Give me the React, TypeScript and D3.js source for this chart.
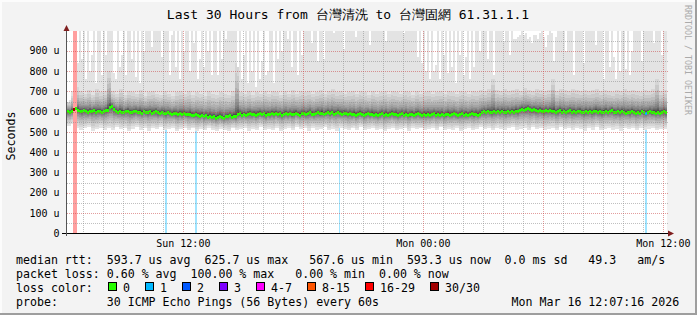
import React from "react";
import * as d3 from "d3";

const W = 697;
const H = 315;

const title = "Last 30 Hours from 台灣清洗 to 台灣固網 61.31.1.1";
const yTickValues = [0, 100, 200, 300, 400, 500, 600, 700, 800, 900];
const xLabelTimes = [
  { label: "Sun 12:00", date: new Date(2026, 2, 15, 12, 0) },
  { label: "Mon 00:00", date: new Date(2026, 2, 16, 0, 0) },
  { label: "Mon 12:00", date: new Date(2026, 2, 16, 12, 0) },
];
const START = new Date(2026, 2, 15, 6, 11);
const END = new Date(2026, 2, 16, 12, 11);
const SPAN_MIN = 1800;

// median rtt per 6-minute step (microseconds)
const medianRtt = [
  604, 601, 606, 612, 618, 610, 605, 602, 607, 604, 600, 605, 603, 608, 601, 604, 606, 600, 603, 607,
  610, 622, 626, 612, 604, 600, 605, 601, 598, 603, 606, 600, 597, 602, 604, 599, 601, 596, 603, 600,
  598, 602, 596, 599, 603, 597, 594, 599, 596, 592, 597, 593, 590, 595, 592, 588, 593, 590, 595, 589,
  587, 591, 586, 583, 588, 584, 580, 585, 578, 582, 576, 580, 574, 578, 571, 576, 580, 575, 568, 577,
  579, 583, 576, 581, 578, 588, 592, 586, 590, 584, 589, 593, 587, 591, 585, 590, 594, 588, 592, 586,
  591, 587, 593, 589, 595, 588, 592, 586, 590, 594, 589, 593, 587, 591, 596, 590, 586, 592, 595, 589,
  593, 597, 591, 588, 594, 598, 592, 596, 590, 595, 599, 593, 597, 591, 595, 600, 594, 590, 596, 592,
  588, 593, 587, 591, 585, 590, 594, 588, 584, 589, 593, 587, 591, 585, 589, 583, 588, 592, 586, 590,
  585, 589, 593, 587, 591, 584, 588, 592, 586, 590, 583, 587, 591, 585, 589, 593, 588, 584, 590, 586,
  589, 584, 588, 592, 586, 590, 585, 589, 583, 587, 591, 585, 589, 593, 587, 582, 588, 592, 586, 590,
  585, 589, 593, 587, 591, 586, 590, 598, 603, 599, 604, 600, 597, 602, 598, 603, 600, 605, 601, 598,
  603, 599, 604, 600, 606, 602, 611, 615, 610, 614, 618, 612, 608, 613, 609, 605, 611, 606, 603, 608,
  604, 609, 602, 606, 600, 604, 608, 601, 605, 599, 603, 607, 600, 604, 598, 602, 606, 600, 597, 603,
  599, 604, 598, 602, 606, 600, 604, 597, 601, 605, 599, 603, 608, 601, 597, 602, 598, 604, 600, 596,
  601, 597, 603, 599, 595, 600, 596, 602, 598, 594, 599, 603, 597, 601, 596, 600, 595, 599, 603, 597,
];
// slowest ping per 6-minute step (values above the top are clipped)
const maxPing = [
  650, 660, 700, 700, 830, 840, 1100, 860, 1100, 760, 1100, 800, 880, 1100, 740, 1100, 1100, 780, 1100, 880,
  1100, 1100, 1100, 790, 760, 1100, 820, 880, 1100, 780, 1100, 1100, 860, 1100, 770, 1100, 740, 1100, 900, 1100,
  1100, 1100, 920, 1100, 1100, 1100, 1100, 870, 1100, 1100, 1100, 780, 980, 1100, 820, 1100, 760, 1100, 900, 1100,
  1100, 800, 1100, 940, 1100, 760, 860, 1100, 820, 1100, 900, 1100, 780, 1100, 1100, 780, 1100, 860, 1100, 960,
  1100, 1100, 1100, 1100, 1100, 820, 1100, 760, 880, 1100, 740, 1100, 800, 1100, 720, 1100, 760, 850, 1100, 780,
  800, 1100, 1100, 740, 1100, 860, 1100, 900, 1100, 1100, 960, 1100, 820, 1100, 1100, 780, 1100, 880, 1100, 1100,
  1100, 1100, 940, 1100, 1100, 850, 1100, 1100, 860, 1100, 1100, 1100, 1100, 990, 1100, 1100, 1100, 1100, 910, 1100,
  1100, 1100, 1100, 1100, 970, 1100, 1100, 1100, 1100, 1100, 1100, 930, 1100, 1100, 1100, 1100, 1100, 1100, 1100, 950,
  1100, 1100, 1100, 1100, 1100, 1100, 1100, 1100, 990, 1100, 1100, 1100, 1100, 1100, 1100, 870, 1100, 840, 1100, 800,
  1100, 760, 1100, 800, 830, 1100, 760, 1100, 880, 1100, 790, 1100, 820, 1100, 740, 1100, 880, 1100, 780, 870,
  1100, 760, 1100, 820, 1100, 1100, 900, 1100, 1100, 1100, 860, 1100, 1100, 780, 1100, 1100, 1100, 1100, 950, 1100,
  1100, 880, 1100, 960, 960, 970, 980, 1000, 980, 990, 960, 970, 940, 980, 980, 960, 990, 1100, 970, 920,
  980, 1100, 990, 850, 970, 1100, 1100, 1100, 1100, 900, 1100, 1100, 1100, 780, 1100, 1100, 1100, 1100, 840, 1100,
  1100, 1100, 1100, 1100, 930, 1100, 1100, 1100, 760, 1100, 1100, 820, 1100, 870, 760, 1100, 800, 1100, 1100, 810,
  1100, 780, 900, 1100, 1100, 1100, 1100, 850, 1100, 1100, 1100, 1100, 1100, 940, 1100, 1100, 1100, 880, 1100, 1100,
];
// second slowest ping per 12-minute bin
const secondMax = [
  650, 680, 720, 700, 690, 705, 685, 710, 695, 700,
  800, 700, 690, 710, 685, 700, 695, 690, 705, 680,
  695, 700, 690, 685, 700, 690, 680, 695, 700, 690,
  700, 685, 695, 690, 680, 700, 690, 685, 695, 690,
  685, 700, 840, 695, 690, 700, 685, 695, 690, 700,
  690, 700, 695, 685, 700, 690, 705, 690, 700, 695,
  700, 690, 695, 705, 690, 700, 710, 695, 700, 690,
  695, 700, 690, 700, 695, 685, 700, 690, 695, 700,
  690, 700, 695, 690, 700, 695, 685, 700, 690, 695,
  700, 690, 695, 700, 690, 700, 695, 690, 700, 695,
  690, 700, 695, 705, 700, 710, 760, 705, 700, 710,
  700, 705, 710, 700, 715, 705, 700, 710, 705, 700,
  705, 760, 700, 710, 705, 700, 710, 705, 700, 705,
  700, 705, 710, 700, 705, 700, 695, 705, 700, 710,
  700, 705, 700, 695, 705, 700, 710, 760, 700, 705,
];
// fastest ping per 12-minute bin
const minPing = [
  530, 540, 520, 512, 518, 525, 505, 515, 522, 510,
  518, 508, 526, 514, 520, 503, 517, 524, 511, 519,
  507, 521, 513, 526, 509, 516, 520, 505, 514, 522,
  510, 518, 503, 515, 508, 520, 512, 506, 517, 511,
  504, 519, 509, 515, 521, 507, 516, 512, 524, 508,
  517, 511, 522, 506, 514, 519, 509, 525, 513, 518,
  507, 520, 512, 516, 523, 510, 517, 506, 521, 514,
  509, 518, 512, 524, 508, 515, 520, 511, 517, 505,
  516, 522, 510, 514, 519, 507, 521, 513, 518, 509,
  515, 520, 511, 523, 508, 517, 512, 519, 506, 514,
  521, 510, 516, 524, 513, 518, 509, 522, 515, 511,
  519, 526, 512, 517, 520, 508, 523, 514, 518, 511,
  516, 521, 509, 524, 513, 518, 510, 520, 515, 507,
  518, 512, 523, 509, 516, 520, 511, 517, 506, 521,
  514, 519, 508, 522, 512, 517, 521, 510, 516, 513,
];
// typical spread of the inner pings (fraction of distance from median)
const lowerRankFrac = [0.01, 0.02, 0.04, 0.07, 0.1, 0.14, 0.19, 0.25, 0.32, 0.4, 0.5, 0.61, 0.74, 0.87];
const upperRankFrac = [0.01, 0.03, 0.05, 0.08, 0.11, 0.15, 0.2, 0.26, 0.33, 0.42, 0.53, 0.66, 0.82];

// steps whose median is drawn in a loss colour
const medianLossStep = [3, 289];
const medianLossCount = [30, 1];
// loss background bars (minutes since start)
const lossBarFrom = [18, 294, 384, 816, 1734];
const lossBarTo = [30, 299, 389, 820, 1740];
const lossBarCount = [20, 1, 1, 1, 1];

const lossLegendLabels = ["0", "1", "2", "3", "4-7", "8-15", "16-29", "30/30"];
const lossLegendColors = ["#26ff00", "#00b8ff", "#0059ff", "#7e00ff", "#ff00ff", "#ff5500", "#ff0000", "#a10000"];
const lossLegendX = [108.5, 145.5, 182.5, 219.5, 256.5, 307.5, 365.5, 430.5];

const line1 = "median rtt:  593.7 us avg  625.7 us max   567.6 us min  593.3 us now  0.0 ms sd   49.3   am/s";
const line2 = "packet loss: 0.60 % avg  100.00 % max   0.00 % min  0.00 % now";
const line3 = "loss color:";
const line4 = "probe:       30 ICMP Echo Pings (56 Bytes) every 60s";
const stamp = "Mon Mar 16 12:07:16 2026";

function lossColor(n: number) {
  if (n <= 0) return lossLegendColors[0];
  if (n === 1) return lossLegendColors[1];
  if (n === 2) return lossLegendColors[2];
  if (n === 3) return lossLegendColors[3];
  if (n <= 7) return lossLegendColors[4];
  if (n <= 15) return lossLegendColors[5];
  if (n <= 29) return lossLegendColors[6];
  return lossLegendColors[7];
}
function smokeGray(k: number) {
  const v = Math.floor((190 / 15) * (15 - k)) + 50;
  return `rgb(${v},${v},${v})`;
}

const MONO = "'DejaVu Sans Mono', monospace";

export default function App() {
  const left = 67, right = 667, top = 31, bottom = 233.3;
  const x = d3.scaleTime().domain([START, END]).range([left, right]);
  const y = d3.scaleLinear().domain([0, 1000]).range([bottom, 30.7]);
  const t = (min: number) => new Date(START.getTime() + min * 60000);
  const stepMin = SPAN_MIN / medianRtt.length;
  const binMin = SPAN_MIN / minPing.length;

  const smoke: JSX.Element[] = [];
  medianRtt.forEach((med, i) => {
    const x0 = Math.round(x(t(i * stepMin)));
    const x1 = Math.round(x(t((i + 1) * stepMin)));
    const b = Math.min(minPing.length - 1, Math.floor((i * stepMin) / binMin));
    const lo = minPing[b], hi = maxPing[i], hi2 = Math.min(secondMax[b], hi);
    const p: number[] = new Array(31).fill(0);
    p[1] = lo; p[30] = hi; p[29] = hi2;
    for (let r = 2; r <= 15; r++) p[r] = med - (med - lo) * lowerRankFrac[15 - r];
    for (let r = 16; r <= 28; r++) p[r] = med + (hi2 - med) * upperRankFrac[r - 16];
    for (let k = 1; k <= 15; k++) {
      const yt = y(p[31 - k]);
      const yb = y(p[k]);
      smoke.push(
        <rect key={`s${i}-${k}`} x={x0} y={yt} width={x1 - x0} height={Math.max(0, yb - yt)} fill={smokeGray(k)} />
      );
    }
  });

  const lossBg = lossBarFrom.map((f, j) => {
    const x0 = x(t(f)), x1 = x(t(lossBarTo[j]));
    return { x0, x1, c: lossColor(lossBarCount[j]), n: lossBarCount[j] };
  });

  const medianRects = medianRtt.map((med, i) => {
    const x0 = Math.round(x(t(i * stepMin)));
    const x1 = Math.round(x(t((i + 1) * stepMin)));
    const li = medianLossStep.indexOf(i);
    const c = li >= 0 ? lossColor(medianLossCount[li]) : lossLegendColors[0];
    const yc = Math.round(y(med));
    return <rect key={`m${i}`} x={x0} y={yc - 1} width={x1 - x0} height={3} fill={c} />;
  });

  const hourTicks = d3.timeHour.every(1)!.range(START, END);
  const minorV = hourTicks.filter((d) => d.getHours() % 6 !== 0);
  const majorV = hourTicks.filter((d) => d.getHours() % 6 === 0);
  const minorH = d3.range(50, 1000, 100);
  const majorH = yTickValues.filter((v) => v > 0);

  const legendText = (s: string, yy: number, xx = 16) => (
    <text x={xx} y={yy} xmlSpace="preserve" style={{ whiteSpace: "pre" }} fontFamily={MONO} fontSize={11.6} fill="#000">{s}</text>
  );

  return (
    <svg width={W} height={H} style={{ position: "absolute", left: 0, top: 0, display: "block" }}>
      <defs>
        <clipPath id="plotclip">
          <rect x={left} y={top} width={right - left} height={bottom - top} />
        </clipPath>
      </defs>
      <rect x={0} y={0} width={W} height={H} fill="#f3f3f3" />
      <rect x={0} y={0} width={W} height={2} fill="#fcfcfc" />
      <rect x={0} y={0} width={2} height={H} fill="#fcfcfc" />
      <rect x={W - 2} y={0} width={2} height={H} fill="#9e9e9e" />
      <rect x={0} y={H - 2} width={W} height={2} fill="#9e9e9e" />

      <rect x={left} y={top} width={right - left} height={bottom - top} fill="#ffffff" />
      <g clipPath="url(#plotclip)" shapeRendering="crispEdges">
        {lossBg.filter((b) => b.n < 16).map((b, j) => (
          <rect key={`lb${j}`} x={b.x0} y={top} width={b.x1 - b.x0} height={bottom - top} fill={b.c} fillOpacity={0x60 / 255} />
        ))}
        {smoke}
        {lossBg.filter((b) => b.n >= 16).map((b, j) => (
          <rect key={`lr${j}`} x={b.x0} y={top} width={b.x1 - b.x0} height={bottom - top} fill="rgb(255,159,159)" />
        ))}
        {medianRects}
      </g>

      <g shapeRendering="crispEdges">
        {minorH.map((v) => (
          <line key={`gh${v}`} x1={left} x2={right + 1} y1={Math.round(y(v)) + 0.5} y2={Math.round(y(v)) + 0.5} stroke="rgba(140,140,140,0.55)" strokeDasharray="1,1" />
        ))}
        {minorV.map((d, i) => (
          <line key={`gv${i}`} x1={Math.round(x(d)) + 0.5} x2={Math.round(x(d)) + 0.5} y1={top} y2={bottom} stroke="rgba(140,140,140,0.55)" strokeDasharray="1,1" />
        ))}
        {majorH.map((v) => (
          <line key={`mh${v}`} x1={left} x2={right + 1} y1={Math.round(y(v)) + 0.5} y2={Math.round(y(v)) + 0.5} stroke="rgba(200,60,60,0.5)" strokeDasharray="1,1" />
        ))}
        {majorV.map((d, i) => (
          <line key={`mv${i}`} x1={Math.round(x(d)) + 0.5} x2={Math.round(x(d)) + 0.5} y1={top} y2={bottom} stroke="rgba(200,60,60,0.5)" strokeDasharray="1,1" />
        ))}
        <line x1={62} x2={670} y1={233.5} y2={233.5} stroke="#000" />
        <line x1={66.5} x2={66.5} y1={236} y2={28} stroke="#555" />
      </g>
      <path d="M668,230.5 L674,233.5 L668,236.5 Z" fill="#7f1f1f" />
      <path d="M63.5,31 L66.5,25 L69.5,31 Z" fill="#7f1f1f" />

      <text x={348} y={19} textAnchor="middle" fontFamily={MONO} fontSize={13} fill="#000">{title}</text>

      {yTickValues.map((v) => (
        <text key={`yl${v}`} x={59.5} y={y(v) + 3.5} textAnchor="end" fontFamily={MONO} fontSize={10} fill="#000">
          {v === 0 ? "0" : `${v} u`}
        </text>
      ))}
      {xLabelTimes.map((l) => (
        <text key={l.label} x={x(l.date)} y={246.5} textAnchor="middle" fontFamily={MONO} fontSize={10} fill="#000">{l.label}</text>
      ))}

      <text transform="translate(14.5,136) rotate(-90)" textAnchor="middle" fontFamily={MONO} fontSize={11.6} fill="#000">Seconds</text>
      <text transform="translate(684.5,5) rotate(90)" fontFamily={MONO} fontSize={8.3} fill="#aaaaaa">RRDTOOL / TOBI OETIKER</text>

      {legendText(line1, 263.5)}
      {legendText(line2, 277.5)}
      {legendText(line3, 291.5)}
      {legendText(line4, 305.5)}
      {legendText(stamp, 305.5, 511.6)}
      {lossLegendLabels.map((lab, i) => (
        <g key={`lg${i}`}>
          <rect x={lossLegendX[i]} y={282.5} width={8} height={8} fill={lossLegendColors[i]} stroke="#000" strokeWidth={1} shapeRendering="crispEdges" />
          <text x={lossLegendX[i] + 14.5} y={291.5} fontFamily={MONO} fontSize={11.6} fill="#000">{lab}</text>
        </g>
      ))}
    </svg>
  );
}
